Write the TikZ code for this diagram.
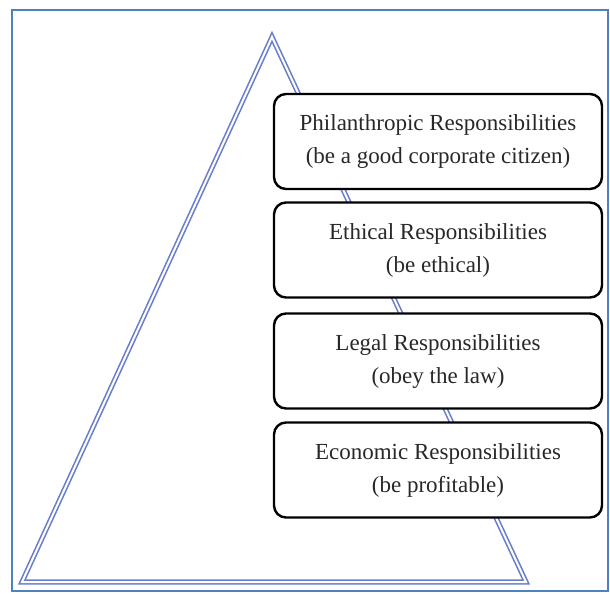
\documentclass[tikz,border=0pt]{standalone}
\usepackage{fontspec}
\setmainfont{Liberation Serif}
\definecolor{framecol}{RGB}{79,129,189}
\definecolor{tricol}{RGB}{105,125,205}
\definecolor{txtcol}{RGB}{40,40,40}
\begin{document}
\begin{tikzpicture}[x=1pt,y=-1pt,
  respbox/.style={draw=black, line width=2.4pt, rounded corners=12pt, fill=white,
    minimum width=328pt, minimum height=95pt, align=center, text=txtcol,
    font=\fontsize{23}{33}\selectfont, inner sep=0pt},
  tri/.style={draw=tricol, double=white, line width=1.6pt, double distance=2pt, line join=miter}]
\useasboundingbox (0,0) rectangle (610,594);
\draw[framecol, line width=1.5pt] (12,10) rectangle (608,591);
\coordinate (apex) at (272,37);
\coordinate (bl) at (22,582);
\coordinate (br) at (526,582);
\draw[tri] (apex) -- (br) -- (bl) -- cycle;
\node[respbox] (phil) at (438,141.5) {Philanthropic Responsibilities\\(be a good corporate citizen)};
\node[respbox] (eth) at (438,250) {Ethical Responsibilities\\(be ethical)};
\node[respbox] (leg) at (438,361) {Legal Responsibilities\\(obey the law)};
\node[respbox] (eco) at (438,470) {Economic Responsibilities\\(be profitable)};
\end{tikzpicture}
\end{document}
